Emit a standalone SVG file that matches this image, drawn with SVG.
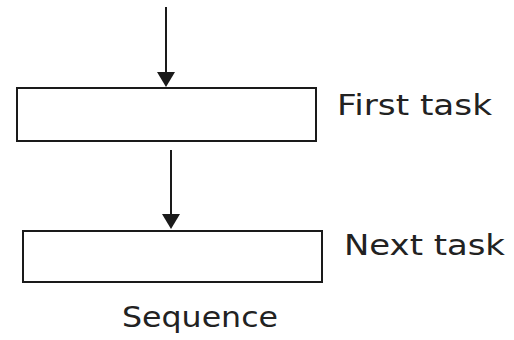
<svg xmlns="http://www.w3.org/2000/svg" width="514" height="340" viewBox="0 0 514 340">
  <style>
    .box { fill: #ffffff; stroke: #1a1a1a; stroke-width: 2; }
    .edge { stroke: #1a1a1a; stroke-width: 2; fill: none; }
    .label { font-family: "DejaVu Sans", Verdana, sans-serif; font-size: 28px; fill: #222222; }
  </style>
  <rect width="514" height="340" fill="#ffffff"/>

  <g id="connectors">
    <path class="edge" d="M166,7 L166,74"/>
    <path d="M157,72 L175,72 L166,87 z" fill="#1a1a1a"/>
    <path class="edge" d="M171,150 L171,216"/>
    <path d="M162,214 L180,214 L171,229 z" fill="#1a1a1a"/>
  </g>

  <g id="first-task">
    <rect class="box" x="17" y="88" width="299" height="53"/>
    <text class="label" x="337" y="115" textLength="155" lengthAdjust="spacingAndGlyphs">First task</text>
  </g>

  <g id="next-task">
    <rect class="box" x="23" y="231" width="299" height="51"/>
    <text class="label" x="344" y="255" textLength="161" lengthAdjust="spacingAndGlyphs">Next task</text>
  </g>

  <g id="caption">
    <text class="label" x="122" y="327" textLength="156" lengthAdjust="spacingAndGlyphs">Sequence</text>
  </g>
</svg>
